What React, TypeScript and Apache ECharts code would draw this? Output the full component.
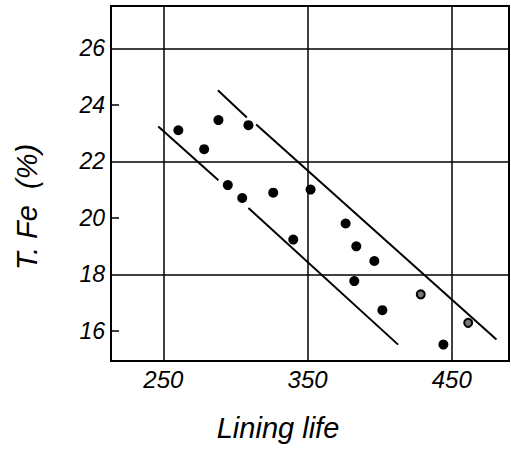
import React, { useEffect, useRef } from "react";
import * as echarts from "echarts";

const xTickLabels = [250, 350, 450];
const yTickLabels = [16, 18, 20, 22, 24, 26];
const yTickMarks = [16, 20, 24];
const xGridValues = [250, 350, 450];
const yGridValues = [18, 22, 26];

const filledPoints: [number, number][] = [
  [260.4, 23.1],
  [288.2, 23.46],
  [309.0, 23.28],
  [278.3, 22.43],
  [294.7, 21.16],
  [304.7, 20.7],
  [326.2, 20.89],
  [352.1, 21.0],
  [376.4, 19.8],
  [340.1, 19.23],
  [383.8, 18.99],
  [396.3, 18.47],
  [382.4, 17.76],
  [401.9, 16.73],
  [444.2, 15.51],
];
const openPoints: [number, number][] = [
  [428.5, 17.29],
  [461.4, 16.28],
];

const upperLineA: [number, number][] = [
  [287.8, 24.52],
  [307.9, 23.55],
];
const upperLineB: [number, number][] = [
  [314.4, 23.3],
  [481.0, 15.69],
];
const lowerLineA: [number, number][] = [
  [246.5, 23.23],
  [288.2, 21.33],
];
const lowerLineB: [number, number][] = [
  [309.0, 20.35],
  [412.8, 15.51],
];

const FONT = "Liberation Sans";

export default function App() {
  const ref = useRef<HTMLDivElement>(null);
  useEffect(() => {
    if (!ref.current) return;
    const chart = echarts.init(ref.current, null, { renderer: "svg" });
    const lineSeries = (data: [number, number][]) => ({
      type: "line",
      data,
      symbol: "none",
      silent: true,
      lineStyle: { color: "#000", width: 2 },
      z: 3,
    });
    chart.setOption({
      animation: false,
      backgroundColor: "#fff",
      grid: {
        left: 111,
        right: 2,
        top: 6,
        bottom: 89,
        show: true,
        borderColor: "#000",
        borderWidth: 2,
        backgroundColor: "transparent",
      },
      xAxis: {
        type: "value",
        min: 213.7,
        max: 489.7,
        axisLine: { show: true, lineStyle: { color: "#000", width: 2 } },
        axisTick: { show: false },
        splitLine: { show: false },
        axisLabel: {
          customValues: xTickLabels,
          color: "#000",
          fontFamily: FONT,
          fontStyle: "italic",
          fontSize: 24,
          margin: 6,
        },
      },
      yAxis: {
        type: "value",
        min: 14.93,
        max: 27.5,
        axisLine: { show: true, lineStyle: { color: "#000", width: 2 } },
        axisTick: {
          show: true,
          customValues: yTickMarks,
          inside: true,
          length: 8,
          lineStyle: { color: "#000", width: 1.5 },
        },
        splitLine: { show: false },
        axisLabel: {
          customValues: yTickLabels,
          color: "#000",
          fontFamily: FONT,
          fontStyle: "italic",
          fontSize: 23,
          margin: 6,
        },
      },
      graphic: [
        {
          type: "text",
          x: 278,
          y: 428,
          style: {
            text: "Lining life",
            fontFamily: FONT,
            fontStyle: "italic",
            fontSize: 29,
            fill: "#000",
            align: "center",
            verticalAlign: "middle",
          },
        },
        {
          type: "text",
          x: 27,
          y: 207,
          rotation: Math.PI / 2,
          style: {
            text: "T. Fe  (%)",
            fontFamily: FONT,
            fontStyle: "italic",
            fontSize: 29,
            fill: "#000",
            align: "center",
            verticalAlign: "middle",
          },
        },
      ],
      series: [
        {
          type: "scatter",
          data: filledPoints,
          symbol: "circle",
          symbolSize: 10,
          itemStyle: { color: "#000", opacity: 1 },
          z: 4,
          markLine: {
            silent: true,
            symbol: "none",
            label: { show: false },
            lineStyle: { color: "#000", width: 1.5, type: "solid", opacity: 1 },
            data: [
              ...xGridValues.map((v) => ({ xAxis: v })),
              ...yGridValues.map((v) => ({ yAxis: v })),
            ],
          },
        },
        {
          type: "scatter",
          data: openPoints,
          symbol: "circle",
          symbolSize: 8,
          itemStyle: {
            color: "#777",
            borderColor: "#000",
            borderWidth: 2,
            opacity: 1,
          },
          z: 4,
        },
        lineSeries(upperLineA),
        lineSeries(upperLineB),
        lineSeries(lowerLineA),
        lineSeries(lowerLineB),
      ],
    });
    return () => chart.dispose();
  }, []);
  return (
    <div
      ref={ref}
      style={{ position: "fixed", left: 0, top: 0, width: 511, height: 450 }}
    />
  );
}
